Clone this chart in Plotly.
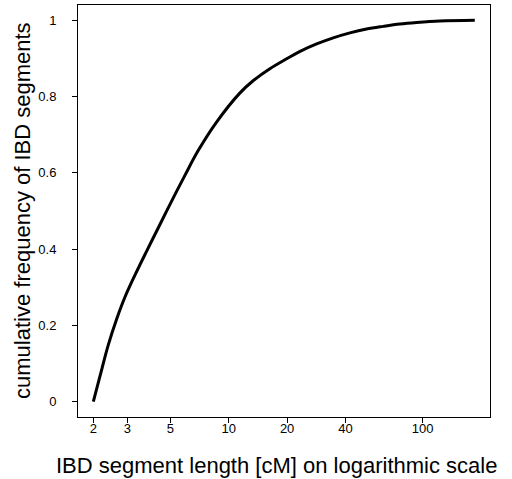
import plotly.graph_objects as go

# IBD segment length (cM) and cumulative frequency of segments
seg_length = [2.0, 2.17, 2.39, 2.64, 2.91, 3.28, 3.77, 4.33, 5.05, 5.92, 6.93, 8.65,
              11.4, 13.4, 16.3, 19.9, 23.2, 28.4, 34.6, 42.2, 51.4, 62.7, 76.4, 93.1, 123, 186]
cum_freq = [0.0, 0.069, 0.149, 0.217, 0.274, 0.332, 0.395, 0.456, 0.524, 0.592, 0.657, 0.733,
            0.809, 0.842, 0.873, 0.899, 0.918, 0.938, 0.954, 0.967, 0.977, 0.984, 0.990, 0.994, 0.998, 1.0]

x_ticks = [2, 3, 5, 10, 20, 40, 100]
y_ticks = [0, 0.2, 0.4, 0.6, 0.8, 1]
y_tick_text = ["0", "0.2", "0.4", "0.6", "0.8", "1"]

font_family = "Liberation Sans, Arial, sans-serif"

fig = go.Figure()
fig.add_trace(go.Scatter(
    x=seg_length, y=cum_freq, mode="lines",
    line=dict(color="black", width=3, shape="spline", smoothing=1.0),
    hoverinfo="skip", showlegend=False,
))

fig.update_layout(
    width=512, height=479,
    margin=dict(l=78, r=22, t=5, b=62),
    paper_bgcolor="white", plot_bgcolor="white",
    font=dict(family=font_family, color="black", size=13),
    xaxis=dict(
        type="log", range=[0.222, 2.348],
        tickvals=x_ticks, ticktext=[str(v) for v in x_ticks],
        ticks="outside", ticklen=5, tickcolor="black", tickwidth=1,
        showline=True, linecolor="black", linewidth=1, mirror=True,
        showgrid=False, zeroline=False,
        tickfont=dict(size=13), ticklabelstandoff=-6,
    ),
    yaxis=dict(
        range=[-0.04, 1.04],
        tickvals=y_ticks, ticktext=y_tick_text,
        ticks="outside", ticklen=5, tickcolor="black", tickwidth=1,
        showline=True, linecolor="black", linewidth=1, mirror=True,
        showgrid=False, zeroline=False,
        tickfont=dict(size=13), ticklabelstandoff=13,
    ),
    annotations=[
        dict(text="IBD segment length [cM] on logarithmic scale",
             xref="paper", yref="paper", x=0.5, y=0, xanchor="center", yanchor="middle",
             xshift=-8, yshift=-48, showarrow=False, font=dict(size=22)),
        dict(text="cumulative frequency of IBD segments",
             xref="paper", yref="paper", x=0, y=0.5, xanchor="center", yanchor="middle",
             xshift=-56, yshift=0, textangle=-90, showarrow=False, font=dict(size=22)),
    ],
)

fig.write_html("out.html")
